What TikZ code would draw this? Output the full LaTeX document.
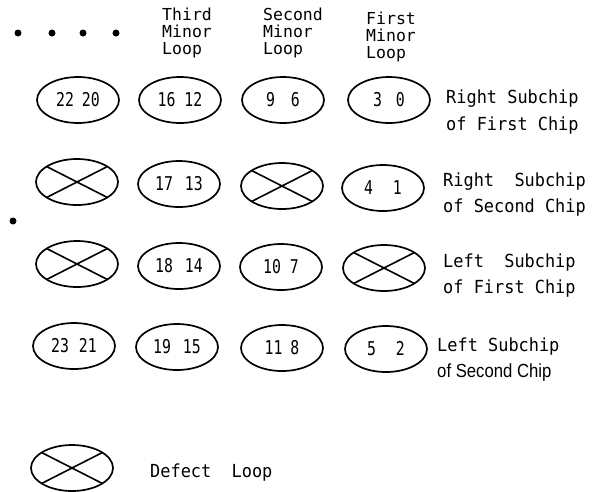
\documentclass[tikz,border=0pt]{standalone}
\usepackage{fontspec}
\usetikzlibrary{shapes.geometric}
\newfontfamily\hdfont{DejaVu Sans Mono}
\newfontfamily\labfont[FakeStretch=0.94]{DejaVu Sans Mono}
\newfontfamily\numfont[FakeStretch=0.78]{DejaVu Sans Mono}
\newfontfamily\propfont[FakeStretch=0.88]{Liberation Sans}
\newcommand{\numpair}[3]{#1\hspace{#3pt}#2}
\tikzset{
  cell/.style={draw, ellipse, line width=1.7pt, minimum width=82pt, minimum height=46pt,
    inner sep=0pt, outer sep=0pt, font=\numfont\fontsize{19}{19}\selectfont},
  xline/.style={line width=1.6pt},
  dotmark/.style={circle, fill, inner sep=0pt, minimum size=7pt},
  head/.style={anchor=base west, inner sep=0pt, align=left,
    font=\hdfont\fontsize{16.5}{16}\selectfont},
  lab/.style={anchor=base west, inner sep=0pt, font=\labfont\fontsize{18}{18}\selectfont},
  plab/.style={anchor=base west, inner sep=0pt, font=\propfont\fontsize{19}{19}\selectfont}
}
\begin{document}
\begin{tikzpicture}[x=1pt, y=-1pt]
\useasboundingbox (0,0) rectangle (592,491);
% dots
\node[dotmark] (d1) at (18,33) {};
\node[dotmark] (d2) at (52,33) {};
\node[dotmark] (d3) at (83,33) {};
\node[dotmark] (d4) at (116,33) {};
\node[dotmark] (d5) at (13,221) {};
% headers
\node[head] (h3a) at (162,20) {Third};
\node[head] (h3b) at (162,37) {Minor};
\node[head] (h3c) at (162,54) {Loop};
\node[head] (h2a) at (263,20) {Second};
\node[head] (h2b) at (263,37) {Minor};
\node[head] (h2c) at (263,54) {Loop};
\node[head] (h1a) at (366,24) {First};
\node[head] (h1b) at (366,41) {Minor};
\node[head] (h1c) at (366,58) {Loop};
% row 1
\node[cell] (r1c1) at (78,100) {\numpair{22}{20}{8}};
\node[cell] (r1c2) at (180,100) {\numpair{16}{12}{9}};
\node[cell] (r1c3) at (283,100) {\numpair{9}{6}{16}};
\node[cell] (r1c4) at (389,100) {\numpair{3}{0}{14}};
% row 2
\node[cell] (r2c1) at (77,182) {};
\node[cell] (r2c2) at (179,184) {\numpair{17}{13}{12}};
\node[cell] (r2c3) at (282,186) {};
\node[cell] (r2c4) at (383,188) {\numpair{4}{1}{20}};
% row 3
\node[cell] (r3c1) at (77,264) {};
\node[cell] (r3c2) at (179,266) {\numpair{18}{14}{12}};
\node[cell] (r3c3) at (281,267) {\numpair{10}{7}{9}};
\node[cell] (r3c4) at (384,268) {};
% row 4
\node[cell] (r4c1) at (74,346) {\numpair{23}{21}{10}};
\node[cell] (r4c2) at (177,347) {\numpair{19}{15}{12}};
\node[cell] (r4c3) at (282,348) {\numpair{11}{8}{8}};
\node[cell] (r4c4) at (386,349) {\numpair{5}{2}{20}};
% legend
\node[cell] (def) at (72,468) {};
% crosses
\foreach \n in {r2c1,r2c3,r3c1,r3c4,def}{
  \draw[xline] (\n.27) -- (\n.207);
  \draw[xline] (\n.153) -- (\n.333);
}
% labels
\node[lab] (l1a) at (446,103) {Right Subchip};
\node[lab] (l1b) at (446,130) {of First Chip};
\node[lab] (l2a) at (443,186) {Right\ \ Subchip};
\node[lab] (l2b) at (443,212) {of Second Chip};
\node[lab] (l3a) at (443,267) {Left\ \ Subchip};
\node[lab] (l3b) at (443,293) {of First Chip};
\node[lab] (l4a) at (437,351) {Left Subchip};
\node[plab] (l4b) at (437,377) {of Second Chip};
\node[lab] (ldef) at (150,477) {Defect\ \ Loop};
\end{tikzpicture}
\end{document}
